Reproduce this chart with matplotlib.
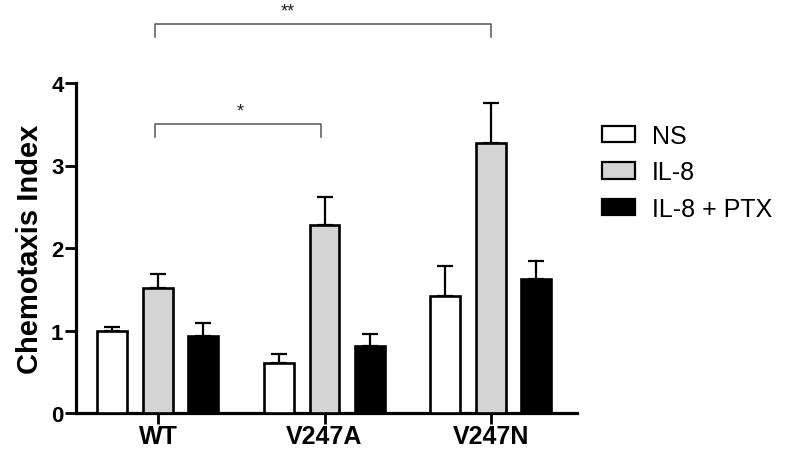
import matplotlib
matplotlib.use("Agg")
import matplotlib.pyplot as plt
import numpy as np
from matplotlib.patches import Patch

plt.rcParams['font.family'] = ['Liberation Sans', 'DejaVu Sans']

groups = ["WT", "V247A", "V247N"]
series = ["NS", "IL-8", "IL-8 + PTX"]
ns_vals = [1.00, 0.61, 1.42]
ns_err = [0.04, 0.11, 0.36]
il8_vals = [1.51, 2.28, 3.27]
il8_err = [0.17, 0.34, 0.49]
ptx_vals = [0.93, 0.81, 1.62]
ptx_err = [0.16, 0.15, 0.22]
y_ticks = [0, 1, 2, 3, 4]

fig = plt.figure(figsize=(7.91, 4.56), dpi=100)
ax = fig.add_axes([76/791, 42/456, 501/791, 330/456])

x = np.arange(len(groups))
offsets = [-0.275, 0.0, 0.272]
width = 0.18
fills = ["white", "#d4d4d4", "black"]
vals = [ns_vals, il8_vals, ptx_vals]
errs = [ns_err, il8_err, ptx_err]

for off, v, e, fc in zip(offsets, vals, errs, fills):
    ax.bar(x + off, v, width, color=fc, edgecolor="black", linewidth=1.9, zorder=3)
    ax.errorbar(x + off, v, yerr=[np.zeros(len(e)), e], fmt="none", ecolor="black",
                elinewidth=1.6, capsize=6, capthick=1.6, zorder=2)

ax.set_xlim(-0.494, 2.518)
ax.set_ylim(0, 4)
ax.set_xticks(x)
ax.set_xticklabels(groups, fontsize=18, fontweight="bold")
ax.set_yticks(y_ticks)
ax.set_yticklabels([str(t) for t in y_ticks], fontsize=16, fontweight="bold")
ax.tick_params(axis="x", length=8, width=2, direction="out", pad=0)
ax.tick_params(axis="y", length=8, width=2, direction="out", pad=1)
ax.set_ylabel("Chemotaxis Index", fontsize=21, fontweight="bold", labelpad=5)

for s in ["top", "right"]:
    ax.spines[s].set_visible(False)
for s in ["left", "bottom"]:
    ax.spines[s].set_linewidth(2.3)

# significance brackets
bc = "#555555"
def bracket(x0, x1, y, h, label, tx, ty):
    ax.plot([x0, x0, x1, x1], [y - h, y, y, y - h], color=bc, lw=1.1, clip_on=False)
    ax.text(tx, ty, label, ha="center", va="center", fontsize=13, color="#222222")

bracket(-0.02, 0.976, 3.50, 0.16, "*", 0.494, 3.66)
bracket(-0.02, 2.0, 4.715, 0.16, "**", 0.777, 4.87)

handles = [Patch(facecolor=fc, edgecolor="black", linewidth=1.6) for fc in fills]
fig.legend(handles, series, loc="upper left", bbox_to_anchor=(602/791, 1 - 125/456),
           frameon=False, fontsize=18, handlelength=1.32, handleheight=0.64,
           handletextpad=0.68, labelspacing=0.5, borderpad=0, borderaxespad=0)

fig.savefig("out.png", dpi=100)
